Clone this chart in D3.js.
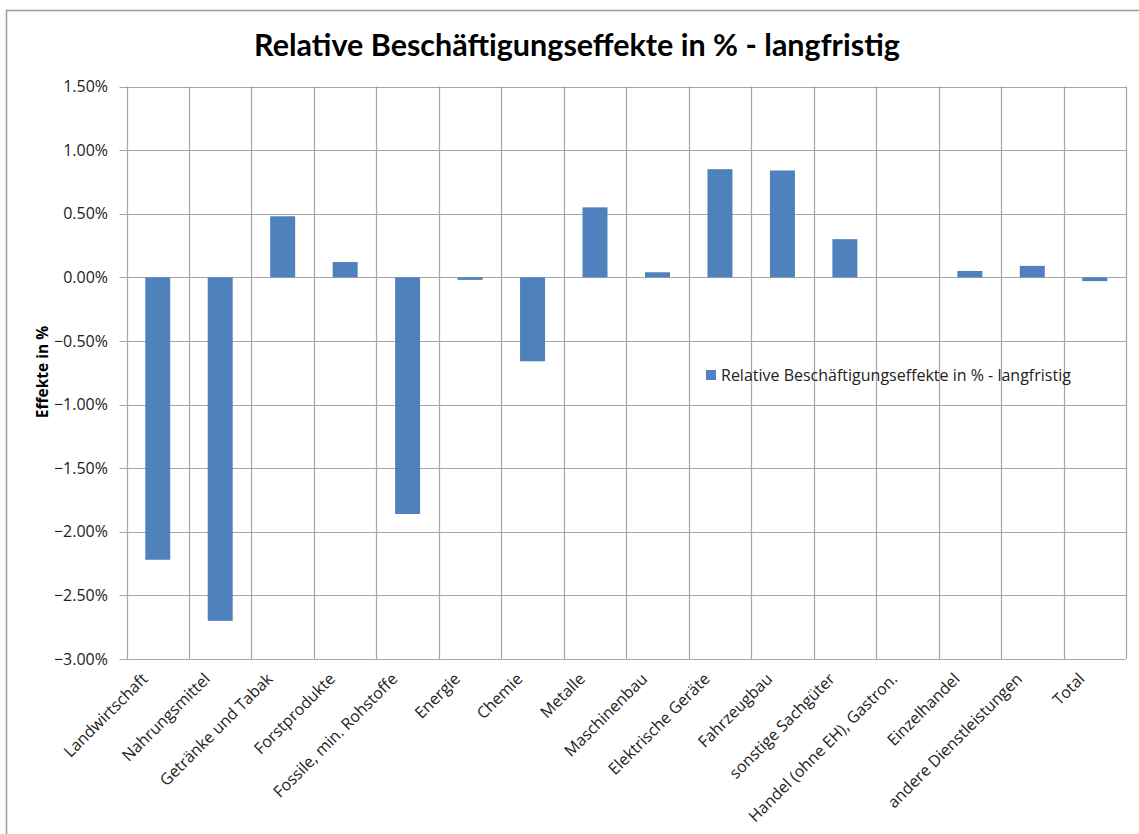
<!DOCTYPE html>
<html><head><meta charset="utf-8">
<script src="https://cdn.jsdelivr.net/npm/d3@7"></script>
<style>
body{margin:0;background:#fff;}
svg{display:block;font-family:"Open Sans",Lato,sans-serif;}
</style></head>
<body><svg id="c" width="1139" height="834"></svg>
<script>
const categories = ["Landwirtschaft","Nahrungsmittel","Getränke und Tabak","Forstprodukte","Fossile, min. Rohstoffe","Energie","Chemie","Metalle","Maschinenbau","Elektrische Geräte","Fahrzeugbau","sonstige Sachgüter","Handel (ohne EH), Gastron.","Einzelhandel","andere Dienstleistungen","Total"];
const values = [-2.22,-2.70,0.48,0.12,-1.86,-0.02,-0.66,0.55,0.04,0.85,0.84,0.30,0.00,0.05,0.09,-0.03];
const yTicks = [1.5,1.0,0.5,0.0,-0.5,-1.0,-1.5,-2.0,-2.5,-3.0];
const title = "Relative Beschäftigungseffekte in % - langfristig";
const yTitle = "Effekte in %";
const seriesName = "Relative Beschäftigungseffekte in % - langfristig";

const svg = d3.select("#c");
const L = 126.5, R = 1126, T = 86.5, B = 659;
const x = d3.scaleBand().domain(categories).range([L,R]).paddingInner(0).paddingOuter(0);
const y = d3.scaleLinear().domain([-3,1.5]).range([B,T]);
const barColor = "#4f81bd", grid = "#a6a6a6";

// outer chart border (left and top visible)
svg.append("path").attr("d","M6.5,840 L6.5,10.5 L1145,10.5").attr("fill","none").attr("stroke","#9a9a9a").attr("stroke-width",1.5);

// title
svg.append("text").attr("x",577).attr("y",56).attr("text-anchor","middle")
  .attr("font-family","Lato,sans-serif")
  .attr("font-size",30.5).attr("font-weight","bold").attr("fill","#000").text(title);

// horizontal gridlines
svg.append("g").selectAll("line").data(yTicks).join("line")
  .attr("x1",L-7).attr("x2",R).attr("y1",d=>Math.round(y(d))+0.5).attr("y2",d=>Math.round(y(d))+0.5)
  .attr("stroke",grid).attr("stroke-width",1.2);
// vertical gridlines at category boundaries
const bounds = categories.map(c=>x(c)).concat([R]);
svg.append("g").selectAll("line").data(bounds).join("line")
  .attr("x1",d=>Math.round(d)+0.5).attr("x2",d=>Math.round(d)+0.5).attr("y1",T).attr("y2",B)
  .attr("stroke",grid).attr("stroke-width",1.2);

// y tick labels
svg.append("g").selectAll("text").data(yTicks).join("text")
  .attr("x",108).attr("y",d=>y(d)).attr("dy","0.35em").attr("text-anchor","end")
  .attr("font-size",16).attr("fill","#222").text(d=>d3.format(".2f")(d)+"%");

// y axis title
svg.append("text").attr("transform","translate(48,372) rotate(-90)").attr("text-anchor","middle")
  .attr("font-size",15.5).attr("font-weight","bold").attr("fill","#000").text(yTitle);

// bars
const bw = x.bandwidth()*0.4;
svg.append("g").selectAll("rect").data(values.map((v,i)=>({c:categories[i],v}))).join("rect")
  .attr("x",d=>x(d.c)+x.bandwidth()/2-bw/2).attr("width",bw)
  .attr("y",d=>y(Math.max(0,d.v))).attr("height",d=>Math.abs(y(d.v)-y(0)))
  .attr("fill",barColor);

// x labels
svg.append("g").selectAll("text").data(categories).join("text")
  .attr("transform",d=>`translate(${x(d)+x.bandwidth()/2-13},${B+17}) rotate(-45)`)
  .attr("text-anchor","end").attr("dy","0.35em")
  .attr("font-size",16).attr("fill","#222").text(d=>d);

// legend
svg.append("rect").attr("x",706).attr("y",370).attr("width",10).attr("height",10).attr("fill",barColor);
svg.append("text").attr("x",721).attr("y",375).attr("dy","0.35em").attr("font-size",16).attr("fill","#222").text(seriesName);
</script></body></html>
